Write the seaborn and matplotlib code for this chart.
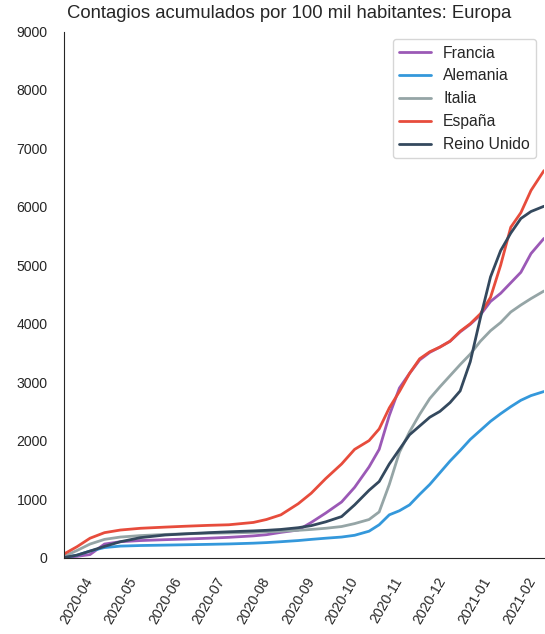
import pandas as pd
import seaborn as sns
import matplotlib.pyplot as plt
import matplotlib.dates as mdates


fechas = ["2020-03-23", "2020-04-01", "2020-04-10", "2020-04-20", "2020-05-01", "2020-05-15",
          "2020-06-01", "2020-06-15", "2020-07-01", "2020-07-15", "2020-08-01", "2020-08-10",
          "2020-08-20", "2020-09-01", "2020-09-10", "2020-09-20", "2020-10-01", "2020-10-10",
          "2020-10-20", "2020-10-27", "2020-11-03", "2020-11-10", "2020-11-17", "2020-11-24",
          "2020-12-01", "2020-12-08", "2020-12-15", "2020-12-22", "2020-12-29", "2021-01-05",
          "2021-01-12", "2021-01-19", "2021-01-26", "2021-02-02", "2021-02-09", "2021-02-18"]

francia = [0, 20, 50, 230, 270, 290, 305, 315, 330, 345, 370, 390, 430, 470, 600, 760, 950, 1200,
           1550, 1850, 2430, 2900, 3150, 3380, 3510, 3600, 3700, 3860, 3990, 4150, 4380, 4520,
           4700, 4880, 5200, 5460]
alemania = [0, 40, 110, 170, 195, 205, 212, 218, 225, 232, 245, 255, 270, 290, 310, 330, 350, 380,
            450, 560, 730, 800, 900, 1080, 1250, 1450, 1650, 1830, 2020, 2175, 2330, 2460, 2580,
            2690, 2770, 2840]
italia = [20, 120, 230, 310, 350, 375, 395, 405, 415, 420, 430, 440, 450, 465, 480, 500, 530, 580,
          650, 780, 1250, 1800, 2150, 2450, 2720, 2920, 3110, 3300, 3480, 3700, 3880, 4020, 4200,
          4320, 4430, 4560]
espana = [60, 185, 330, 425, 470, 500, 520, 535, 550, 560, 600, 650, 730, 920, 1100, 1350, 1600,
          1850, 2000, 2200, 2560, 2840, 3150, 3400, 3520, 3600, 3700, 3870, 4000, 4170, 4450, 5000,
          5650, 5900, 6280, 6620]
reino_unido = [0, 40, 110, 190, 270, 340, 385, 405, 425, 440, 455, 465, 480, 510, 545, 610, 700,
               900, 1150, 1300, 1600, 1850, 2100, 2250, 2400, 2500, 2650, 2850, 3350, 4100, 4800,
               5250, 5550, 5800, 5920, 6010]

paises = ["Francia", "Alemania", "Italia", "España", "Reino Unido"]
series = [francia, alemania, italia, espana, reino_unido]
# flat ui colours
colores = ["#9b59b6", "#3498db", "#95a5a6", "#e74c3c", "#34495e"]

df = pd.concat([pd.DataFrame({"fecha": pd.to_datetime(fechas), "casos": vals, "pais": p})
                for p, vals in zip(paises, series)], ignore_index=True)

sns.set_style("white")
plt.rcParams["font.family"] = ["Liberation Sans", "DejaVu Sans"]

fig = plt.figure(figsize=(5.45, 6.34), dpi=100)
ax = fig.add_axes([64 / 545, 1 - 557.5 / 634, 480 / 545, 526 / 634])

sns.lineplot(data=df, x="fecha", y="casos", hue="pais", palette=colores, linewidth=2, ax=ax)

ax.set_xlim(df["fecha"].min(), df["fecha"].max())
ax.set_ylim(0, 9000)
ax.xaxis.set_major_locator(mdates.MonthLocator())
ax.xaxis.set_major_formatter(mdates.DateFormatter("%Y-%m"))
for label in ax.get_xticklabels():
    label.set_rotation(60)
ax.tick_params(axis="both", length=0, labelsize=10.1)
ax.tick_params(axis="x", pad=12.5)
ax.tick_params(axis="y", pad=11.8)
ax.set_xlabel("")
ax.set_ylabel("")
ax.set_title("Contagios acumulados por 100 mil habitantes: Europa", fontsize=13.3, x=0.468, pad=9.4)

handles, labels = ax.get_legend_handles_labels()
ax.legend(handles, labels, loc="upper right", fontsize=11.3)
sns.despine(ax=ax)

plt.savefig("out.png", dpi=100)
